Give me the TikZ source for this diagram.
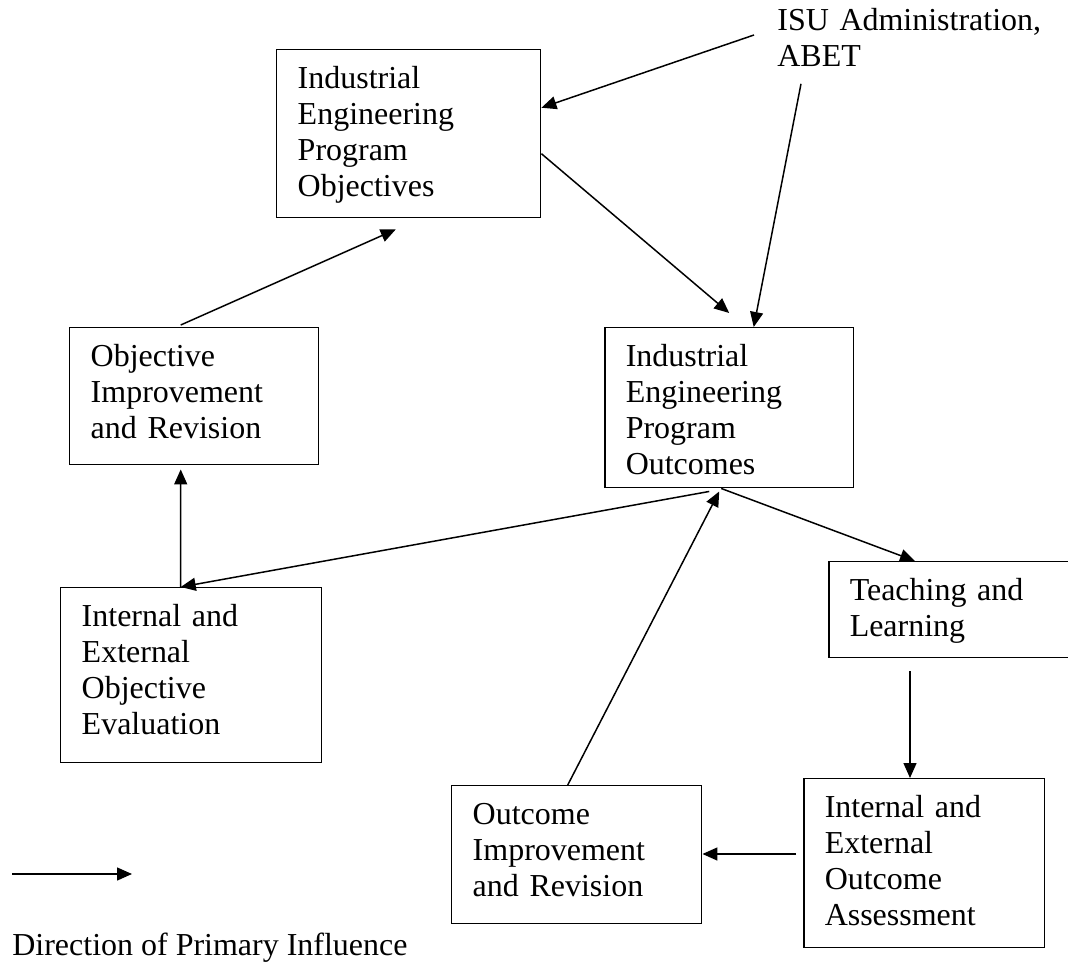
\documentclass[tikz,border=0pt]{standalone}
\usepackage{fontspec}
\setmainfont{Liberation Serif}
\usetikzlibrary{arrows.meta,calc}
\tikzset{
    block/.style={draw, line width=0.85pt, anchor=north west, align=left,
                  inner xsep=0.42cm, inner ysep=0.34cm, text height=0.44cm},
    txt/.style={anchor=north west, align=left, inner sep=0pt, text height=0.44cm, text width=7cm},
    arr/.style={line width=0.85pt, -{Triangle[length=0.3cm, width=0.26cm]}},
}

\begin{document}
\begin{tikzpicture}[x=0.02cm, y=-0.02cm, font=\fontsize{18.2pt}{20.5pt}\selectfont]
    \useasboundingbox (0,0) rectangle (1068,962);

    % Sources
    \node[txt] (isu) at (777,8) {ISU Administration,\\ABET};

    % Objectives
    \node[block, text width=4.44cm, text depth=2.24cm] (iepo) at (276,49) {Industrial\\Engineering\\Program\\Objectives};
    \node[block, text width=4.14cm, text depth=1.62cm] (objimp) at (69,327) {Objective\\Improvement\\and Revision};
    \node[block, text width=4.38cm, text depth=2.38cm] (objeval) at (60,587) {Internal and\\External\\Objective\\Evaluation};

    % Outcomes
    \node[block, text width=4.14cm, text depth=2.08cm] (outc) at (604,327) {Industrial\\Engineering\\Program\\Outcomes};
    \node[block, text width=4.40cm, text depth=0.80cm] (teach) at (828,561) {Teaching and\\Learning};
    \node[block, text width=3.98cm, text depth=2.26cm] (outass) at (803,778) {Internal and\\External\\Outcome\\Assessment};
    \node[block, text width=4.16cm, text depth=1.64cm] (outimp) at (451,785) {Outcome\\Improvement\\and Revision};

    % Influence
    \draw[arr] ($(isu.north west)+(-23,27)$) -- ($(iepo.east)+(0,-26)$);
    \draw[arr] ($(isu.south west)+(24,17)$) -- ($(outc.north)+(24.5,0)$);
    \draw[arr] ($(iepo.east)+(0,20)$) -- ($(outc.north)+(0,-14)$);
    \draw[arr] ($(objimp.north)+(-13.5,-2)$) -- ($(iepo.south)+(-13,11)$);
    \draw[arr] ($(objeval.north)+(-10.5,0)$) -- ($(objimp.south)+(-13.5,4)$);
    \draw[arr] ($(outc.south)+(-20,3)$) -- ($(objeval.north)+(-10.5,0)$);
    \draw[arr] ($(outc.south)+(-8,0)$) -- ($(teach.north west)+(87,0)$);
    \draw[arr] ($(teach.south west)+(82,13)$) -- ($(outass.north west)+(107,0)$);
    \draw[arr] ($(outass.north west)+(-7,76)$) -- ($(outimp.north east)+(0,69)$);
    \draw[arr] ($(outimp.north)+(-9,0)$) -- ($(outc.south)+(-10,3)$);

    % Legend
    \coordinate (legA) at (12,874);
    \coordinate (legB) at (132,874);
    \draw[arr] (legA) -- (legB);
    \node[anchor=base west, inner sep=0pt] (legtxt) at (12,955) {Direction of Primary Influence};
\end{tikzpicture}
\end{document}
